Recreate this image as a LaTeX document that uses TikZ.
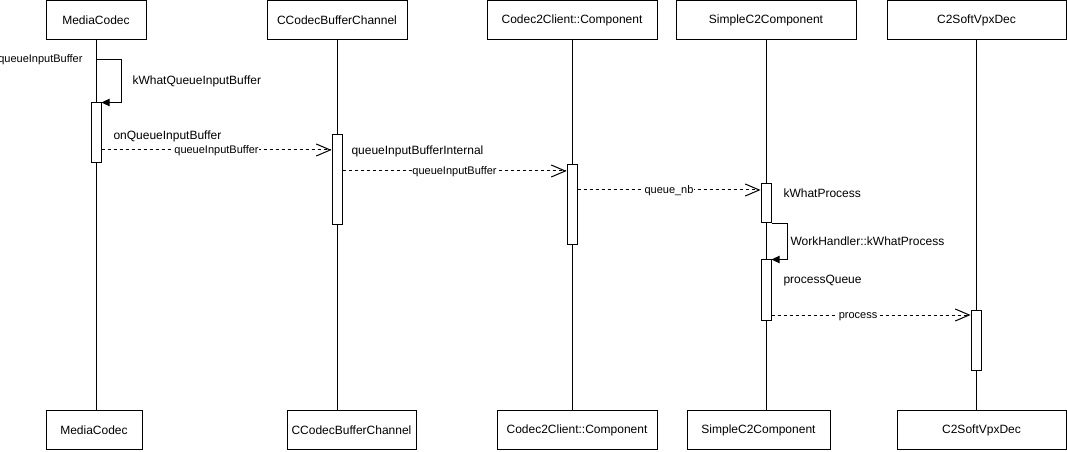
\documentclass[tikz,border=0pt]{standalone}
\usepackage{fontspec}
\setmainfont{Liberation Sans}
\usetikzlibrary{arrows.meta}
\begin{document}
\begin{tikzpicture}[x=0.75pt,y=-0.75pt,line width=0.75pt,
  actor/.style={draw,fill=white,inner sep=0pt,minimum height=29.25pt,font=\fontsize{9}{11}\selectfont},
  act/.style={draw,fill=white,inner sep=0pt,minimum width=7.5pt},
  life/.style={draw},
  msg/.style={dash pattern=on 2.25pt off 2.25pt,-{Straight Barb[length=10.5pt,width=9pt,line width=0.75pt]}},
  self/.style={-{Triangle[length=6pt,width=5.5pt]}},
  lbl/.style={fill=white,inner sep=0.5pt,anchor=mid,font=\fontsize{8.25}{10}\selectfont},
  note/.style={inner sep=0pt,font=\fontsize{9}{11}\selectfont,anchor=west},
  notesmall/.style={inner sep=0pt,font=\fontsize{8.25}{10}\selectfont,anchor=east}]
\useasboundingbox (0,0) rectangle (1067,452);
% top actors
\node[actor,minimum width=75pt] (t1) at (96,20.5) {MediaCodec};
\node[actor,minimum width=105pt] (t2) at (337,20.5) {CCodecBufferChannel};
\node[actor,minimum width=127.5pt] (t3) at (572,20.5) {Codec2Client::Component};
\node[actor,minimum width=135pt] (t4) at (766,20.5) {SimpleC2Component};
\node[actor,minimum width=134.25pt] (t5) at (976.5,20.5) {C2SoftVpxDec};
% bottom actors
\node[actor,minimum width=72pt] (b1) at (94,430) {MediaCodec};
\node[actor,minimum width=96.75pt] (b2) at (351.5,430) {CCodecBufferChannel};
\node[actor,minimum width=120pt] (b3) at (577,430) {Codec2Client::Component};
\node[actor,minimum width=107.25pt] (b4) at (758.5,430) {SimpleC2Component};
\node[actor,minimum width=126.75pt] (b5) at (981.5,430) {C2SoftVpxDec};
% lifelines
\draw[life] (t1.south -| 96,0) -- (96,410);
\draw[life] (t2.south) -- (t2.south |- b2.north);
\draw[life] (t3.south) -- (t3.south |- b3.north);
\draw[life] (t4.south) -- (t4.south |- b4.north);
\draw[life] (t5.south -| 976,0) -- (976,410);
% activations
\node[act,minimum height=45pt] (a1) at (96,133) {};
\node[act,minimum height=67.5pt] (a2) at (337,180) {};
\node[act,minimum height=60pt] (a3) at (572,205) {};
\node[act,minimum height=29.25pt] (a4) at (766,203.5) {};
\node[act,minimum height=45pt] (a5) at (766,290) {};
\node[act,minimum height=45pt] (a6) at (976,340) {};
% self call 1
\coordinate (s1) at (96,60);
\draw[self] (s1) -- ++(25,0) |- (a1.north east);
\node[notesmall] (n0) at (83,60) {queueInputBuffer};
\node[note] (n1) at (132,81) {kWhatQueueInputBuffer};
\node[note] (n2) at (113,136) {onQueueInputBuffer};
% messages
\draw[msg] (a1.east |- 0,150) -- node[lbl] (m1) {queueInputBuffer} (a2.west |- 0,150);
\node[note] (n3) at (351,151) {queueInputBufferInternal};
\draw[msg] (a2.east |- 0,171) -- node[lbl] (m2) {queueInputBuffer} (a3.west |- 0,171);
\draw[msg] (a3.east |- 0,190) -- node[lbl] (m3) {queue\_nb} (a4.west |- 0,190);
\node[note] (n4) at (783,193) {kWhatProcess};
% self call 2
\draw[self] (a4.south east) -- ++(16,0) |- (a5.north east);
\node[note] (n5) at (790,241) {WorkHandler::kWhatProcess};
\node[note] (n6) at (783,281) {processQueue};
\draw[msg] (a5.east |- 0,315) -- node[lbl,pos=0.435] (m4) {process} (a6.west |- 0,315);
\end{tikzpicture}
\end{document}
